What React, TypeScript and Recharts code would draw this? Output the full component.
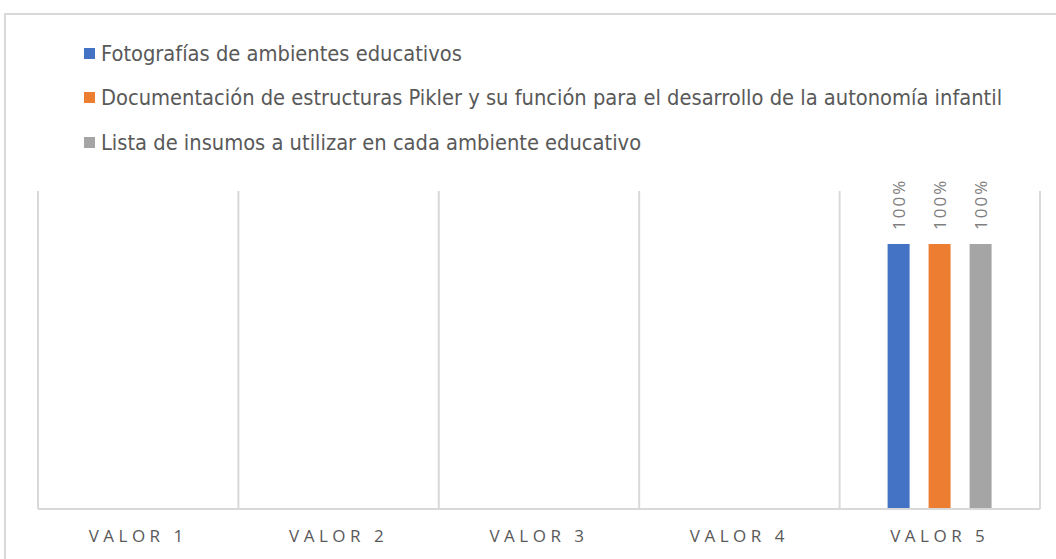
import { BarChart, Bar, XAxis, YAxis, CartesianGrid, LabelList } from "recharts";

const categories = ["VALOR 1", "VALOR 2", "VALOR 3", "VALOR 4", "VALOR 5"];
const fotografias = [0, 0, 0, 0, 100];
const documentacion = [0, 0, 0, 0, 100];
const listaInsumos = [0, 0, 0, 0, 100];

const series = [
  { key: "fotografias", name: "Fotografías de ambientes educativos", color: "#4472c4" },
  {
    key: "documentacion",
    name: "Documentación de estructuras Pikler y su función para el desarrollo de la autonomía infantil",
    color: "#ed7d31",
  },
  { key: "listaInsumos", name: "Lista de insumos a utilizar en cada ambiente educativo", color: "#a5a5a5" },
];

const data = categories.map((c, i) => ({
  category: c,
  idx: i + 0.5,
  fotografias: fotografias[i] || null,
  documentacion: documentacion[i] || null,
  listaInsumos: listaInsumos[i] || null,
}));

const FONT = "'Liberation Sans Narrow', 'DejaVu Sans Condensed', 'Liberation Sans', sans-serif";

function ValueLabel(props: any) {
  const { x, y, width, value } = props;
  if (value == null) return null;
  const cx = x + width / 2;
  const ty = y - 14;
  return (
    <text
      x={cx}
      y={ty}
      transform={`rotate(-90 ${cx} ${ty})`}
      textAnchor="start"
      dominantBaseline="central"
      fill="#7f7f7f"
      fontSize={17}
      letterSpacing={2}
      fontFamily="'Open Sans', sans-serif"
    >
      {value}%
    </text>
  );
}

function CategoryTick(props: any) {
  const { x, y, payload } = props;
  return (
    <text
      x={x}
      y={y + 25}
      textAnchor="middle"
      fill="#595959"
      fontSize={17}
      letterSpacing={4.5}
      fontFamily="'Open Sans', sans-serif"
    >
      {payload.value}
    </text>
  );
}

export default function App() {
  return (
    <div style={{ position: "absolute", left: 0, top: 0, width: 1056, height: 559, overflow: "hidden", background: "#fff" }}>
      <div
        style={{
          position: "absolute",
          left: 4,
          top: 13,
          width: 1100,
          height: 600,
          border: "2px solid #d9d9d9",
        }}
      />
      <div style={{ position: "absolute", left: 84, top: 38, fontFamily: FONT, color: "#595959", fontSize: 21.7 }}>
        {series.map((s) => (
          <div key={s.key} style={{ display: "flex", alignItems: "center", height: 30, marginBottom: 14.5 }}>
            <span style={{ width: 11, height: 11, background: s.color, marginRight: 6, display: "inline-block" }} />
            <span style={{ whiteSpace: "nowrap" }}>{s.name}</span>
          </div>
        ))}
      </div>
      <div style={{ position: "absolute", left: 0, top: 0 }}>
        <BarChart
          width={1056}
          height={559}
          data={data}
          margin={{ top: 191, right: 16, bottom: 10, left: 38 }}
          barSize={22}
          barGap={19}
        >
          <CartesianGrid xAxisId="grid" vertical horizontal={false} stroke="#d9d9d9" strokeWidth={2} />
          <XAxis
            dataKey="category"
            height={40}
            axisLine={{ stroke: "#d9d9d9", strokeWidth: 2 }}
            tickLine={false}
            tick={<CategoryTick />}
            interval={0}
          />
          <XAxis xAxisId="grid" type="number" dataKey="idx" domain={[0, 5]} ticks={[0, 1, 2, 3, 4, 5]} hide />
          <YAxis domain={[0, 120]} hide />
          {series.map((s) => (
            <Bar key={s.key} dataKey={s.key} name={s.name} fill={s.color} isAnimationActive={false}>
              <LabelList dataKey={s.key} content={<ValueLabel />} />
            </Bar>
          ))}
        </BarChart>
      </div>
    </div>
  );
}
